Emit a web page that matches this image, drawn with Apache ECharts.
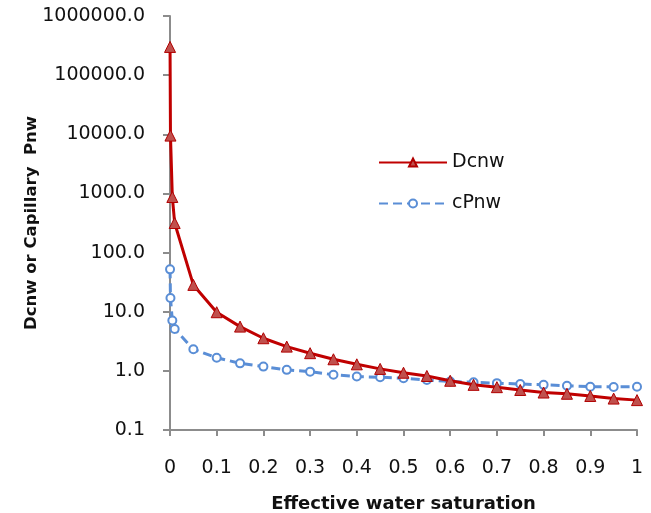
<!DOCTYPE html>
<html>
<head>
<meta charset="utf-8">
<script src="https://cdn.jsdelivr.net/npm/echarts@6/dist/echarts.min.js"></script>
<style>
html,body{margin:0;padding:0;background:#fff;}
#chart{width:651px;height:513px;}
</style>
</head>
<body>
<div id="chart"></div>
<script>
// Effective water saturation (x)
const saturation = [0.0001, 0.001, 0.005, 0.01, 0.05, 0.1, 0.15, 0.2, 0.25, 0.3, 0.35, 0.4, 0.45, 0.5, 0.55, 0.6, 0.65, 0.7, 0.75, 0.8, 0.85, 0.9, 0.95, 1.0];
// Dcnw series
const dcnw = [300000, 9500, 870, 316, 28.4, 9.8, 5.6, 3.56, 2.57, 1.99, 1.57, 1.29, 1.08, 0.93, 0.82, 0.68, 0.58, 0.53, 0.475, 0.43, 0.41, 0.376, 0.34, 0.32];
// cPnw series
const cpnw = [52, 17, 7.1, 5.1, 2.32, 1.67, 1.34, 1.18, 1.04, 0.97, 0.86, 0.80, 0.78, 0.75, 0.70, 0.66, 0.64, 0.62, 0.60, 0.58, 0.56, 0.54, 0.535, 0.54];
const seriesNames = ['Dcnw', 'cPnw'];
const xTitle = 'Effective water saturation';
const yTitle = 'Dcnw or Capillary  Pnw';

const pairs = (xs, ys) => xs.map((x, i) => [x, ys[i]]);
const axisGray = '#8c8c8c';
const font = 'DejaVu Sans';

const chart = echarts.init(document.getElementById('chart'), null, {renderer: 'canvas'});
chart.setOption({
  animation: false,
  backgroundColor: '#fff',
  grid: {left: 170, right: 14, top: 16, bottom: 83, containLabel: false, outerBoundsMode: 'none'},
  legend: {
    orient: 'vertical',
    left: 378,
    top: 153,
    padding: 0,
    itemWidth: 68,
    itemHeight: 10,
    itemGap: 22,
    textStyle: {fontFamily: font, fontSize: 19, color: '#111'},
    data: seriesNames
  },
  xAxis: {
    type: 'value',
    min: 0, max: 1, interval: 0.1,
    name: xTitle,
    nameLocation: 'middle',
    nameGap: 65,
    nameMoveOverlap: false,
    nameTextStyle: {fontFamily: font, fontSize: 18, fontWeight: 'bold', color: '#111'},
    axisLine: {lineStyle: {color: axisGray, width: 2}},
    axisTick: {show: true, length: 6, lineStyle: {color: axisGray, width: 2}},
    axisLabel: {fontFamily: font, fontSize: 19, color: '#111', margin: 29,
      formatter: v => (Math.abs(v) < 1e-9 ? '0' : (Math.abs(v - 1) < 1e-9 ? '1' : v.toFixed(1)))},
    splitLine: {show: false}
  },
  yAxis: {
    type: 'log',
    logBase: 10,
    min: 0.1, max: 1000000,
    name: yTitle,
    nameLocation: 'middle',
    nameGap: 130,
    nameMoveOverlap: false,
    nameTextStyle: {fontFamily: font, fontSize: 16.5, fontWeight: 'bold', color: '#111'},
    axisLine: {show: true, lineStyle: {color: axisGray, width: 2}},
    axisTick: {show: true, length: 7, lineStyle: {color: axisGray, width: 2}},
    axisLabel: {fontFamily: font, fontSize: 19, color: '#111', margin: 25,
      formatter: v => Number(v).toFixed(1)},
    splitLine: {show: false},
    minorTick: {show: false}
  },
  series: [
    {
      name: seriesNames[0],
      type: 'line',
      data: pairs(saturation, dcnw),
      symbol: 'triangle',
      symbolSize: 11,
      lineStyle: {color: '#C00000', width: 3},
      itemStyle: {color: '#C0504D', borderColor: '#B00000', borderWidth: 1},
      z: 3
    },
    {
      name: seriesNames[1],
      type: 'line',
      data: pairs(saturation, cpnw),
      symbol: 'circle',
      symbolSize: 8,
      showAllSymbol: true,
      lineStyle: {color: '#5A8ED6', width: 3, type: [9, 5]},
      itemStyle: {color: '#ffffff', borderColor: '#5A8ED6', borderWidth: 2},
      z: 2
    }
  ]
});
</script>
</body>
</html>
